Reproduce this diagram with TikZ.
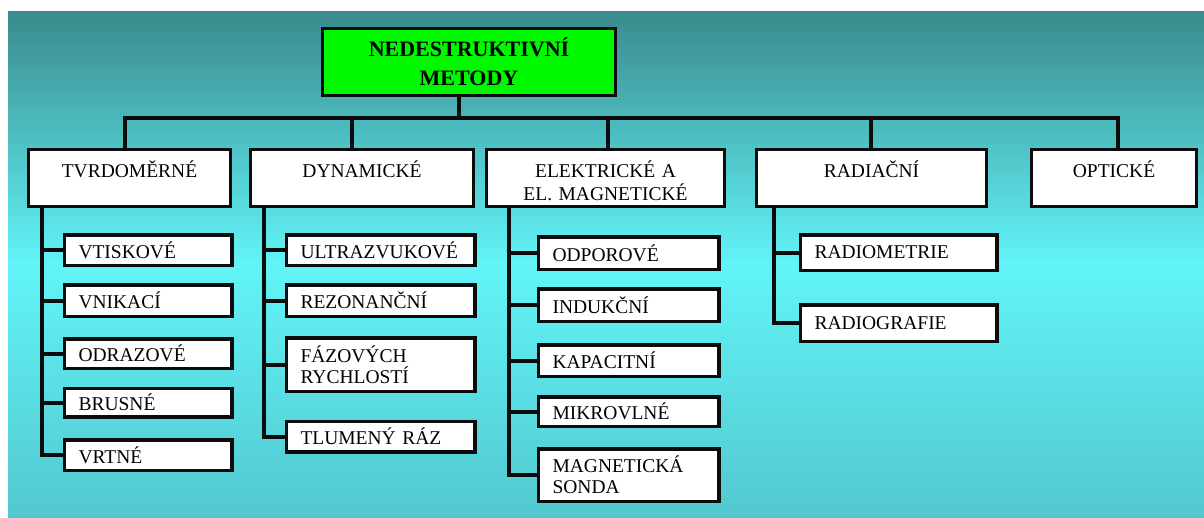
\documentclass[tikz,border=0pt]{standalone}
\usepackage{fontspec}
\setmainfont{Liberation Serif}
\usepackage{xcolor}
\usepackage{tikz}
\definecolor{ndttop}{RGB}{58,138,140}
\definecolor{ndtmid}{RGB}{98,244,248}
\definecolor{ndtbot}{RGB}{82,200,206}
\definecolor{ndtgreen}{RGB}{0,248,0}
\definecolor{ndtink}{RGB}{12,12,12}
\tikzset{
    ndtroot/.style={draw=ndtink, line width=3.5pt, fill=ndtgreen, align=center, minimum width=293pt, minimum height=67pt, inner sep=0pt, font=\fontsize{22}{29}\selectfont\bfseries},
    ndtgroup/.style={draw=ndtink, line width=3.5pt, fill=white, align=center, text width=#1, inner sep=0pt, text height=28pt, text depth=29pt, font=\fontsize{19.5}{23}\selectfont},
    ndtitem/.style={draw=ndtink, line width=3.5pt, fill=white, align=left, text width=#1, inner xsep=14pt, inner ysep=0pt, minimum height=30.5pt, anchor=west, font=\fontsize{19.5}{21}\selectfont},
    ndtline/.style={draw=ndtink, line width=4pt, line cap=rect}
}

\begin{document}
\begin{tikzpicture}[x=1pt, y=-1pt]
    \useasboundingbox (0,0) rectangle (1204,517);
    \fill[white] (0,0) rectangle (1204,517);
    \fill[top color=ndttop, bottom color=ndtbot, middle color=ndtmid] (8,11) rectangle (1204,517);

    \node[ndtroot] (root) at (469,62) {NEDESTRUKTIVNÍ\\METODY};

    \node[ndtgroup=202pt] (tvrd) at (129.5,178) {TVRDOMĚRNÉ};
    \node[ndtgroup=223pt] (dyn) at (362,178) {DYNAMICKÉ};
    \node[ndtgroup=238pt] (elek) at (605.5,178) {ELEKTRICKÉ A\\EL. MAGNETICKÉ};
    \node[ndtgroup=230pt] (rad) at (871.5,178) {RADIAČNÍ};
    \node[ndtgroup=165pt] (opt) at (1114,178) {OPTICKÉ};

    % tvrdomerne
    \node[ndtitem=139.5pt] (vtisk) at (62.75,250) {VTISKOVÉ};
    \node[ndtitem=139.5pt, minimum height=31.5pt] (vnik) at (62.75,300.5) {VNIKACÍ};
    \node[ndtitem=139.5pt, minimum height=29.5pt] (odraz) at (62.75,353.5) {ODRAZOVÉ};
    \node[ndtitem=139.5pt, minimum height=28.5pt] (brus) at (62.75,402.5) {BRUSNÉ};
    \node[ndtitem=139.5pt] (vrt) at (62.75,455) {VRTNÉ};

    % dynamicke
    \node[ndtitem=160.5pt] (ultra) at (284.75,250) {ULTRAZVUKOVÉ};
    \node[ndtitem=160.5pt, minimum height=31.5pt] (rezon) at (284.75,300.5) {REZONANČNÍ};
    \node[ndtitem=160.5pt, minimum height=53.5pt] (fazov) at (284.75,364.5) {FÁZOVÝCH\\RYCHLOSTÍ};
    \node[ndtitem=160.5pt] (tlum) at (284.75,436.5) {TLUMENÝ RÁZ};

    % elektricke
    \node[ndtitem=152.5pt, minimum height=32.5pt] (odpor) at (536.75,253) {ODPOROVÉ};
    \node[ndtitem=152.5pt, minimum height=32.5pt] (induk) at (536.75,305) {INDUKČNÍ};
    \node[ndtitem=152.5pt, minimum height=31.5pt] (kapac) at (536.75,360.5) {KAPACITNÍ};
    \node[ndtitem=152.5pt, minimum height=29.5pt] (mikro) at (536.75,411.5) {MIKROVLNÉ};
    \node[ndtitem=152.5pt, minimum height=52.5pt] (magnet) at (536.75,475) {MAGNETICKÁ\\SONDA};

    % radiacni
    \node[ndtitem=168.5pt, minimum height=35.5pt] (radiom) at (798.75,252.5) {RADIOMETRIE};
    \node[ndtitem=168.5pt, minimum height=36.5pt] (radiog) at (798.75,323) {RADIOGRAFIE};

    \coordinate (bus) at (459,118);
    \draw[ndtline] (root.south -| bus) -- (bus);
    \draw[ndtline] ([xshift=-5pt]tvrd.north |- bus) -- ([xshift=4pt]opt.north |- bus);
    \foreach \n/\dx in {tvrd/-5,dyn/-10,elek/2,rad/-1,opt/4}
        \draw[ndtline] ([xshift=\dx pt]\n.north |- bus) -- ([xshift=\dx pt]\n.north);

    \coordinate (tvrdspine) at (42,0);
    \coordinate (dynspine) at (264,0);
    \coordinate (elekspine) at (509,0);
    \coordinate (radspine) at (774,0);
    \draw[ndtline] (tvrd.south -| tvrdspine) |- (vrt.west);
    \draw[ndtline] (dyn.south -| dynspine) |- (tlum.west);
    \draw[ndtline] (elek.south -| elekspine) |- (magnet.west);
    \draw[ndtline] (rad.south -| radspine) |- (radiog.west);
    \foreach \s in {vtisk,vnik,odraz,brus}
        \draw[ndtline] (\s.west -| tvrdspine) -- (\s.west);
    \foreach \s in {ultra,rezon,fazov}
        \draw[ndtline] (\s.west -| dynspine) -- (\s.west);
    \foreach \s in {odpor,induk,kapac,mikro}
        \draw[ndtline] (\s.west -| elekspine) -- (\s.west);
    \draw[ndtline] (radiom.west -| radspine) -- (radiom.west);
\end{tikzpicture}
\end{document}
